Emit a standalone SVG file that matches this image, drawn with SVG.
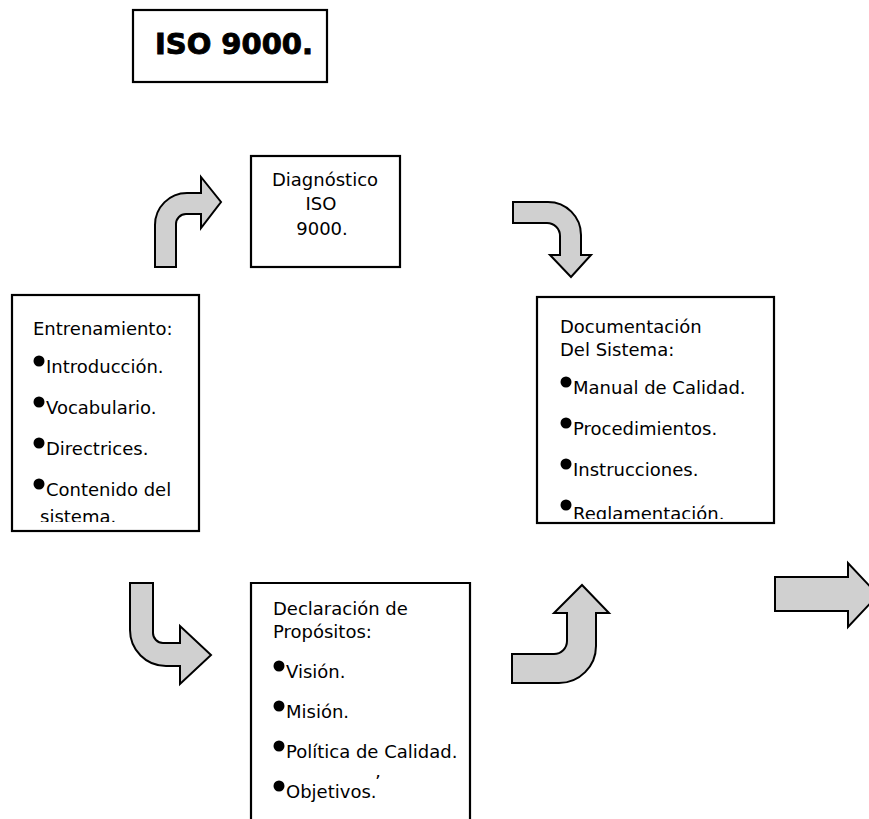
<svg xmlns="http://www.w3.org/2000/svg" width="869" height="819" viewBox="0 0 869 819">
<style>
.box{fill:#fff;stroke:#000;stroke-width:2.2}
.arr{fill:#d0d0d0;stroke:#000;stroke-width:2;stroke-linejoin:miter}
.t{font-family:"DejaVu Sans",Verdana,sans-serif;font-size:18px;fill:#000}
.title{font-family:"DejaVu Sans",Verdana,sans-serif;font-size:29px;font-weight:bold;fill:#000;stroke:#000;stroke-width:0.9}
.b{fill:#000}
</style>
<defs>
<clipPath id="cEnt"><rect x="12" y="295" width="187" height="227"/></clipPath>
<clipPath id="cDoc"><rect x="537" y="297" width="237" height="222"/></clipPath>
</defs>
<rect width="869" height="819" fill="#fff"/>

<g id="title">
<rect class="box" x="133" y="10" width="194" height="72"/>
<text class="title" x="234" y="54" text-anchor="middle" textLength="158">ISO 9000.</text>
</g>

<g id="diagnostico">
<rect class="box" x="251" y="156" width="149" height="111"/>
<text class="t" x="325" y="186" text-anchor="middle">Diagnóstico</text>
<text class="t" x="321" y="210" text-anchor="middle">ISO</text>
<text class="t" x="322" y="235" text-anchor="middle">9000.</text>
</g>

<g id="entrenamiento">
<rect class="box" x="12" y="295" width="187" height="236"/>
<g clip-path="url(#cEnt)">
<text class="t" x="33" y="335">Entrenamiento:</text>
<circle class="b" cx="39" cy="361" r="5.5"/><text class="t" x="46" y="373">Introducción.</text>
<circle class="b" cx="39" cy="402" r="5.5"/><text class="t" x="46" y="414">Vocabulario.</text>
<circle class="b" cx="39" cy="443" r="5.5"/><text class="t" x="46" y="455">Directrices.</text>
<circle class="b" cx="39" cy="484" r="5.5"/><text class="t" x="46" y="496">Contenido del</text>
<text class="t" x="40" y="523">sistema.</text>
</g>
</g>

<g id="documentacion">
<rect class="box" x="537" y="297" width="237" height="226"/>
<g clip-path="url(#cDoc)">
<text class="t" x="560" y="333">Documentación</text>
<text class="t" x="560" y="356">Del Sistema:</text>
<circle class="b" cx="566" cy="382" r="5.5"/><text class="t" x="573" y="394">Manual de Calidad.</text>
<circle class="b" cx="566" cy="423" r="5.5"/><text class="t" x="573" y="435">Procedimientos.</text>
<circle class="b" cx="566" cy="464" r="5.5"/><text class="t" x="573" y="476">Instrucciones.</text>
<circle class="b" cx="566" cy="505" r="5.5"/><text class="t" x="573" y="520">Reglamentación.</text>
</g>
</g>

<g id="declaracion">
<path class="box" d="M251,830 L251,583 L470,583 L470,830"/>
<text class="t" x="273" y="615">Declaración de</text>
<text class="t" x="273" y="638">Propósitos:</text>
<circle class="b" cx="279" cy="666" r="5.5"/><text class="t" x="286" y="678">Visión.</text>
<circle class="b" cx="279" cy="706" r="5.5"/><text class="t" x="286" y="718">Misión.</text>
<circle class="b" cx="279" cy="746" r="5.5"/><text class="t" x="286" y="758">Política de Calidad.</text>
<circle class="b" cx="279" cy="786" r="5.5"/><text class="t" x="286" y="798">Objetivos.</text>
<text class="t" x="375" y="788" font-size="10px">’</text>
</g>

<g id="connectors">
<path class="arr" d="M155,267 L155,225 A32,32 0 0 1 187,193 L201,193 L201,177 L221,202 L201,228 L201,214 L186,214 A10,10 0 0 0 176,224 L176,267 Z"/>
<path class="arr" d="M513,202 L548,202 A33,33 0 0 1 581,235 L581,255 L591,255 L571,277 L550,255 L560,255 L560,236 A13,13 0 0 0 547,223 L513,223 Z"/>
<path class="arr" d="M130,583 L130,630 A36,36 0 0 0 166,666 L180,666 L180,684 L211,655 L180,626 L180,643 L163,643 A10,10 0 0 1 153,633 L153,583 Z"/>
<path class="arr" d="M512,654 L554,654 A13,13 0 0 0 567,641 L567,613 L554,613 L582,585 L609,613 L596,613 L596,646 A37,37 0 0 1 559,683 L512,683 Z"/>
<path class="arr" d="M775,577 L848,577 L848,563 L878,595 L848,627 L848,611 L775,611 Z"/>
</g>
</svg>
